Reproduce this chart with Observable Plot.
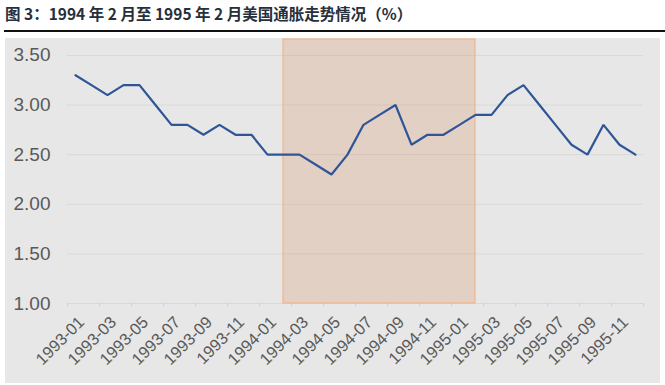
<!DOCTYPE html>
<html>
<head>
<meta charset="utf-8">
<script src="https://cdn.jsdelivr.net/npm/d3@7"></script>
<script src="https://cdn.jsdelivr.net/npm/@observablehq/plot@0.6"></script>
<style>
  html, body { margin: 0; padding: 0; background: #ffffff; }
  #wrap { position: relative; width: 665px; height: 385px; overflow: hidden; }
  #title { position: absolute; left: 5px; top: 2px; font-family: "Noto Sans CJK SC", sans-serif; font-weight: 700; font-size: 15.5px; color: #26303c; white-space: nowrap; }
  #rule { position: absolute; left: 4px; right: 0; top: 30px; height: 2px; background: #111; }
  #chart { position: absolute; left: 5px; top: 38px; }
</style>
</head>
<body>
<div id="wrap">
  <div id="title"></div>
  <div id="rule"></div>
  <div id="chart"></div>
</div>
<script>
const title = "图 3：1994 年 2 月至 1995 年 2 月美国通胀走势情况（%）";
const months = [
  "1993-01","1993-02","1993-03","1993-04","1993-05","1993-06","1993-07","1993-08","1993-09","1993-10","1993-11","1993-12",
  "1994-01","1994-02","1994-03","1994-04","1994-05","1994-06","1994-07","1994-08","1994-09","1994-10","1994-11","1994-12",
  "1995-01","1995-02","1995-03","1995-04","1995-05","1995-06","1995-07","1995-08","1995-09","1995-10","1995-11","1995-12"
];
const inflation = [
  3.3, 3.2, 3.1, 3.2, 3.2, 3.0, 2.8, 2.8, 2.7, 2.8, 2.7, 2.7,
  2.5, 2.5, 2.5, 2.4, 2.3, 2.5, 2.8, 2.9, 3.0, 2.6, 2.7, 2.7,
  2.8, 2.9, 2.9, 3.1, 3.2, 3.0, 2.8, 2.6, 2.5, 2.8, 2.6, 2.5
];
const yTicks = [1.0, 1.5, 2.0, 2.5, 3.0, 3.5];
const highlightStart = "1994-02";
const highlightEnd = "1995-02";

document.getElementById("title").textContent = title;

const data = months.map((m, i) => ({i, month: m, value: inflation[i]}));
const labelData = data.filter(d => d.i % 2 === 0);
const boundaryTicks = d3.range(-0.5, months.length, 2);
const hl = [{x1: months.indexOf(highlightStart), x2: months.indexOf(highlightEnd)}];

const chart = Plot.plot({
  width: 655,
  height: 345,
  marginLeft: 62,
  marginRight: 17,
  marginTop: 1,
  marginBottom: 80,
  style: {background: "#e7e7e7", fontFamily: "'Liberation Sans', Arial, sans-serif"},
  x: {type: "linear", domain: [-0.5, months.length - 0.5], axis: null},
  y: {type: "linear", domain: [1, 3.66], axis: null},
  marks: [
    Plot.ruleY(yTicks, {stroke: "#d8d8d8", strokeWidth: 1}),
    Plot.ruleX(boundaryTicks, {x: d => d, y1: 1, y2: 1, insetBottom: -4, stroke: "#d3d3d3"}),
    Plot.rect(hl, {x1: "x1", x2: "x2", y1: 1, y2: 3.66, fill: "#d38b5f", fillOpacity: 0.25, stroke: "#f2b488", strokeWidth: 1.2}),
    Plot.line(data, {x: "i", y: "value", stroke: "#2f5597", strokeWidth: 2.2, strokeLinejoin: "miter"}),
    Plot.text(yTicks, {x: -0.5, y: d => d, text: d => d.toFixed(2), textAnchor: "end", dx: -17, fill: "#595959", fontSize: 19}),
    Plot.text(labelData, {x: "i", y: 1, text: "month", rotate: -45, textAnchor: "end", lineAnchor: "middle", dx: 6, dy: 16, fill: "#595959", fontSize: 16.5})
  ]
});
document.getElementById("chart").appendChild(chart);
</script>
</body>
</html>
